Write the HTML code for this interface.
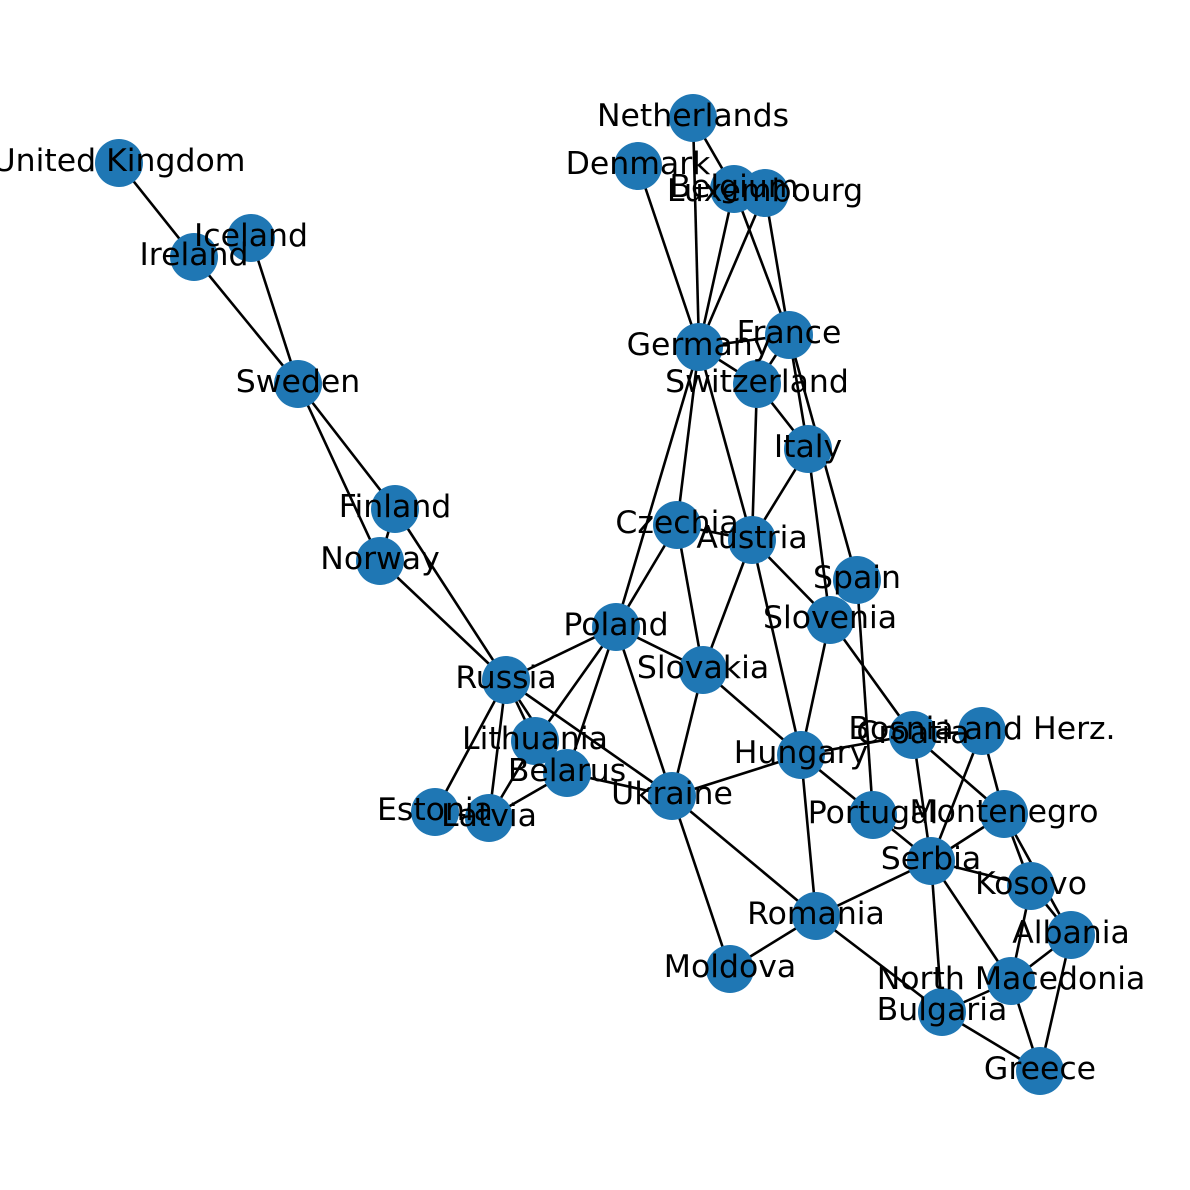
<!DOCTYPE html>
<html><head><meta charset="utf-8"><style>html,body{margin:0;padding:0;background:#fff}svg{display:block}</style></head>
<body>
<svg width="1190" height="1190" viewBox="0 0 1190 1190" xmlns="http://www.w3.org/2000/svg">
<g stroke="#000" stroke-width="2.6">
<line x1="119" y1="163" x2="194" y2="257"/>
<line x1="194" y1="257" x2="298" y2="384"/>
<line x1="251" y1="238" x2="298" y2="384"/>
<line x1="298" y1="384" x2="395" y2="509"/>
<line x1="298" y1="384" x2="380" y2="561"/>
<line x1="395" y1="509" x2="380" y2="561"/>
<line x1="395" y1="509" x2="506" y2="680"/>
<line x1="380" y1="561" x2="506" y2="680"/>
<line x1="506" y1="680" x2="616" y2="627"/>
<line x1="506" y1="680" x2="535" y2="741"/>
<line x1="506" y1="680" x2="567" y2="773"/>
<line x1="506" y1="680" x2="435" y2="812"/>
<line x1="506" y1="680" x2="489" y2="818"/>
<line x1="506" y1="680" x2="672" y2="796"/>
<line x1="535" y1="741" x2="616" y2="627"/>
<line x1="535" y1="741" x2="489" y2="818"/>
<line x1="535" y1="741" x2="567" y2="773"/>
<line x1="567" y1="773" x2="489" y2="818"/>
<line x1="567" y1="773" x2="616" y2="627"/>
<line x1="567" y1="773" x2="672" y2="796"/>
<line x1="435" y1="812" x2="489" y2="818"/>
<line x1="616" y1="627" x2="699" y2="347"/>
<line x1="616" y1="627" x2="677" y2="525"/>
<line x1="616" y1="627" x2="703" y2="670"/>
<line x1="616" y1="627" x2="672" y2="796"/>
<line x1="672" y1="796" x2="703" y2="670"/>
<line x1="672" y1="796" x2="801" y2="755"/>
<line x1="672" y1="796" x2="816" y2="916"/>
<line x1="672" y1="796" x2="730" y2="969"/>
<line x1="703" y1="670" x2="677" y2="525"/>
<line x1="703" y1="670" x2="752" y2="540"/>
<line x1="703" y1="670" x2="801" y2="755"/>
<line x1="677" y1="525" x2="699" y2="347"/>
<line x1="677" y1="525" x2="752" y2="540"/>
<line x1="752" y1="540" x2="699" y2="347"/>
<line x1="752" y1="540" x2="757" y2="384"/>
<line x1="752" y1="540" x2="808" y2="449"/>
<line x1="752" y1="540" x2="830" y2="620"/>
<line x1="752" y1="540" x2="801" y2="755"/>
<line x1="699" y1="347" x2="693" y2="118"/>
<line x1="699" y1="347" x2="638" y2="166"/>
<line x1="699" y1="347" x2="734" y2="189"/>
<line x1="699" y1="347" x2="765" y2="193"/>
<line x1="699" y1="347" x2="789" y2="335"/>
<line x1="699" y1="347" x2="757" y2="384"/>
<line x1="693" y1="118" x2="734" y2="189"/>
<line x1="734" y1="189" x2="789" y2="335"/>
<line x1="765" y1="193" x2="789" y2="335"/>
<line x1="734" y1="189" x2="765" y2="193"/>
<line x1="789" y1="335" x2="757" y2="384"/>
<line x1="789" y1="335" x2="808" y2="449"/>
<line x1="789" y1="335" x2="857" y2="580"/>
<line x1="757" y1="384" x2="808" y2="449"/>
<line x1="808" y1="449" x2="830" y2="620"/>
<line x1="857" y1="580" x2="873" y2="815"/>
<line x1="830" y1="620" x2="801" y2="755"/>
<line x1="830" y1="620" x2="913" y2="735"/>
<line x1="801" y1="755" x2="913" y2="735"/>
<line x1="801" y1="755" x2="931" y2="861"/>
<line x1="801" y1="755" x2="816" y2="916"/>
<line x1="913" y1="735" x2="982" y2="731"/>
<line x1="913" y1="735" x2="931" y2="861"/>
<line x1="913" y1="735" x2="1004" y2="814"/>
<line x1="982" y1="731" x2="931" y2="861"/>
<line x1="982" y1="731" x2="1004" y2="814"/>
<line x1="1004" y1="814" x2="931" y2="861"/>
<line x1="1004" y1="814" x2="1031" y2="886"/>
<line x1="1004" y1="814" x2="1071" y2="935"/>
<line x1="931" y1="861" x2="1031" y2="886"/>
<line x1="931" y1="861" x2="816" y2="916"/>
<line x1="931" y1="861" x2="942" y2="1012"/>
<line x1="931" y1="861" x2="1011" y2="981"/>
<line x1="1031" y1="886" x2="1071" y2="935"/>
<line x1="1031" y1="886" x2="1011" y2="981"/>
<line x1="1071" y1="935" x2="1011" y2="981"/>
<line x1="1071" y1="935" x2="1040" y2="1071"/>
<line x1="1011" y1="981" x2="942" y2="1012"/>
<line x1="1011" y1="981" x2="1040" y2="1071"/>
<line x1="942" y1="1012" x2="1040" y2="1071"/>
<line x1="942" y1="1012" x2="816" y2="916"/>
<line x1="816" y1="916" x2="730" y2="969"/>
</g>
<g fill="#1f77b4">
<circle cx="119" cy="163" r="24"/><circle cx="194" cy="257" r="24"/><circle cx="251" cy="238" r="24"/>
<circle cx="298" cy="384" r="24"/><circle cx="395" cy="509" r="24"/><circle cx="380" cy="561" r="24"/>
<circle cx="506" cy="680" r="24"/><circle cx="535" cy="741" r="24"/><circle cx="567" cy="773" r="24"/>
<circle cx="435" cy="812" r="24"/><circle cx="489" cy="818" r="24"/><circle cx="616" cy="627" r="24"/>
<circle cx="672" cy="796" r="24"/><circle cx="703" cy="670" r="24"/><circle cx="677" cy="525" r="24"/>
<circle cx="752" cy="540" r="24"/><circle cx="699" cy="347" r="24"/><circle cx="693" cy="118" r="24"/>
<circle cx="638" cy="166" r="24"/><circle cx="734" cy="189" r="24"/><circle cx="765" cy="193" r="24"/>
<circle cx="789" cy="335" r="24"/><circle cx="757" cy="384" r="24"/><circle cx="808" cy="449" r="24"/>
<circle cx="857" cy="580" r="24"/><circle cx="830" cy="620" r="24"/><circle cx="801" cy="755" r="24"/>
<circle cx="913" cy="735" r="24"/><circle cx="982" cy="731" r="24"/><circle cx="873" cy="815" r="24"/>
<circle cx="1004" cy="814" r="24"/><circle cx="931" cy="861" r="24"/><circle cx="1031" cy="886" r="24"/>
<circle cx="1071" cy="935" r="24"/><circle cx="816" cy="916" r="24"/><circle cx="730" cy="969" r="24"/>
<circle cx="1011" cy="981" r="24"/><circle cx="942" cy="1012" r="24"/><circle cx="1040" cy="1071" r="24"/>
</g>
<g font-family="DejaVu Sans, sans-serif" font-size="31.5" text-anchor="middle" dominant-baseline="central" fill="#000" transform="translate(0,-2)">
<text x="119" y="163">United Kingdom</text><text x="194" y="257">Ireland</text><text x="251" y="238">Iceland</text>
<text x="298" y="384">Sweden</text><text x="395" y="509">Finland</text><text x="380" y="561">Norway</text>
<text x="506" y="680">Russia</text><text x="535" y="741">Lithuania</text><text x="567" y="773">Belarus</text>
<text x="435" y="812">Estonia</text><text x="489" y="818">Latvia</text><text x="616" y="627">Poland</text>
<text x="672" y="796">Ukraine</text><text x="703" y="670">Slovakia</text><text x="677" y="525">Czechia</text>
<text x="752" y="540">Austria</text><text x="699" y="347">Germany</text><text x="693" y="118">Netherlands</text>
<text x="638" y="166">Denmark</text><text x="734" y="189">Belgium</text><text x="765" y="193">Luxembourg</text>
<text x="789" y="335">France</text><text x="757" y="384">Switzerland</text><text x="808" y="449">Italy</text>
<text x="857" y="580">Spain</text><text x="830" y="620">Slovenia</text><text x="801" y="755">Hungary</text>
<text x="913" y="735">Croatia</text><text x="982" y="731">Bosnia and Herz.</text><text x="873" y="815">Portugal</text>
<text x="1004" y="814">Montenegro</text><text x="931" y="861">Serbia</text><text x="1031" y="886">Kosovo</text>
<text x="1071" y="935">Albania</text><text x="816" y="916">Romania</text><text x="730" y="969">Moldova</text>
<text x="1011" y="981">North Macedonia</text><text x="942" y="1012">Bulgaria</text><text x="1040" y="1071">Greece</text>
</g>
</svg>
</body></html>
